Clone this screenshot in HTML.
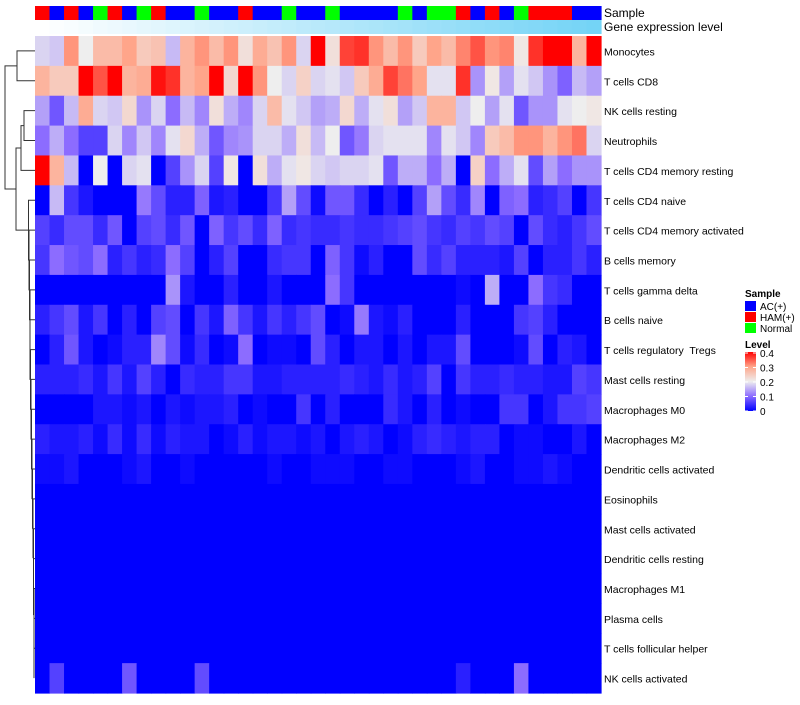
<!DOCTYPE html>
<html><head><meta charset="utf-8"><style>
body{margin:0;background:#fff;font-family:"Liberation Sans",sans-serif;}
svg text{font-family:"Liberation Sans",sans-serif;white-space:pre;}
</style></head><body>
<svg id="chart" width="800" height="700" xmlns="http://www.w3.org/2000/svg">
<g id="dendro" stroke="#333" stroke-width="1" fill="none"></g>
<g id="annot"></g>
<g id="cells"></g>
<g id="rowlabels"></g>
<text x="604" y="17" font-size="12">Sample</text>
<text x="604" y="31" font-size="12">Gene expression level</text>
<g>
<text x="745" y="297" font-size="10" font-weight="bold">Sample</text>
<rect x="745" y="301" width="11" height="10" fill="#0000ff"/>
<text x="760" y="310" font-size="10">AC(+)</text>
<rect x="745" y="312" width="11" height="10" fill="#ff0000"/>
<text x="760" y="321" font-size="10">HAM(+)</text>
<rect x="745" y="323" width="11" height="10" fill="#00ff00"/>
<text x="760" y="332" font-size="10">Normal</text>
</g>
<g>
<text x="745" y="348" font-size="10" font-weight="bold">Level</text>
<defs><linearGradient id="lg" x1="0" y1="1" x2="0" y2="0">
<stop offset="0" stop-color="#0000ff"/><stop offset="0.25" stop-color="#8c6cff"/><stop offset="0.5" stop-color="#eeeeee"/><stop offset="0.75" stop-color="#ffa58a"/><stop offset="1" stop-color="#ff0000"/></linearGradient></defs>
<rect x="745" y="352" width="11" height="59" fill="url(#lg)"/>
<g id="levticks"></g>
</g>
</svg>
<script>
const rowNames=["Monocytes","T cells CD8","NK cells resting","Neutrophils","T cells CD4 memory resting","T cells CD4 naive","T cells CD4 memory activated","B cells memory","T cells gamma delta","B cells naive","T cells regulatory  Tregs","Mast cells resting","Macrophages M0","Macrophages M2","Dendritic cells activated","Eosinophils","Mast cells activated","Dendritic cells resting","Macrophages M1","Plasma cells","T cells follicular helper","NK cells activated"];
const samples="RBRBGRBGRBBGBBRBBGBBGBBBBGBGGRBRBGRRRBB".split("");
const geneExpr=[0,0.02,0.04,0.06,0.08,0.1,0.12,0.14,0.16,0.18,0.2,0.22,0.24,0.26,0.28,0.3,0.32,0.34,0.36,0.38,0.4,0.42,0.44,0.46,0.48,0.5,0.52,0.54,0.56,0.58,0.6,0.62,0.64,0.66,0.68,0.7,0.72,0.74,0.76];
const r0=[18,17,31,20,27,27,30,25,26,16,28,31,27,31,22,29,26,31,18,40,22,36,37,31,27,31,25,30,27,32,35,31,32,21,37,40,40,28,40];
const r1=[28,25,25,40,35,40,28,29,39,37,28,30,40,23,40,31,20,18,24,18,19,17,25,29,36,33,30,19,19,37,13,21,14,19,17,13,9,16,14];
const r2=[14,8,16,29,18,17,23,13,18,10,16,12,22,15,12,18,27,19,17,14,15,23,15,19,22,14,17,28,28,17,20,14,19,8,13,13,19,20,21];
const r3=[10,15,10,6,6,18,12,17,12,19,23,15,8,12,13,18,18,15,22,16,20,8,11,18,19,19,19,12,19,17,12,25,27,31,31,28,31,33,18];
const r4=[40,28,16,0,20,0,18,19,0,6,13,18,6,21,0,22,15,19,21,18,17,18,18,19,8,15,15,10,15,0,24,10,15,19,7,14,10,13,13];
const r5=[0,16,5,2,0,0,0,11,7,3,3,9,2,3,0,0,5,14,7,1,8,8,4,0,3,0,6,14,7,4,12,0,9,10,3,4,6,0,5];
const r6=[6,4,7,7,4,8,0,6,7,4,8,0,9,5,7,4,9,4,5,4,4,5,4,4,5,6,7,5,4,6,5,7,6,0,7,4,3,5,7];
const r7=[5,10,8,7,10,3,5,3,4,10,6,0,3,6,0,0,4,5,5,0,9,5,1,3,0,0,7,4,6,3,3,3,2,6,0,3,3,5,3];
const r8=[0,0,0,0,0,0,0,0,0,13,2,0,0,3,0,0,2,0,0,0,10,5,0,0,0,0,0,0,0,1,0,15,0,0,10,5,4,0,0];
const r9=[3,5,7,2,5,0,3,0,6,7,0,5,2,9,5,2,5,3,5,7,0,1,11,2,1,3,0,0,0,3,0,0,0,5,6,3,0,0,0];
const r10=[0,3,8,2,0,1,3,3,12,7,1,4,0,1,10,0,1,1,0,7,3,0,2,2,0,2,0,2,2,7,0,0,0,1,7,0,3,2,0];
const r11=[3,3,3,4,2,5,2,6,3,0,4,3,3,5,5,2,2,3,3,3,3,4,3,2,4,2,3,6,0,5,3,3,4,3,3,2,2,6,5];
const r12=[0,0,0,0,2,2,1,2,0,2,1,2,2,3,0,1,0,0,5,0,3,0,0,0,4,2,0,3,0,1,0,0,5,5,0,2,5,5,6];
const r13=[3,2,2,3,1,4,1,4,1,3,2,2,0,1,3,1,2,2,1,2,0,2,3,2,0,1,3,4,3,2,3,3,0,1,1,0,0,2,0];
const r14=[1,1,2,0,0,0,1,2,0,0,1,0,0,0,0,0,1,0,0,1,1,1,0,0,1,1,0,0,0,1,2,0,0,1,1,2,1,0,0];
const r15=[0,0,0,0,0,0,0,0,0,0,0,0,0,0,0,0,0,0,0,0,0,0,0,0,0,0,0,0,0,0,0,0,0,0,0,0,0,0,0];
const r21=[0,6,0,0,0,0,8,0,0,0,0,7,0,0,0,0,0,0,0,0,0,0,0,0,0,0,0,0,0,3,0,0,0,10,0,0,0,0,0];
const levelTicks=["0","0.1","0.2","0.3","0.4"];
const values=[r0,r1,r2,r3,r4,r5,r6,r7,r8,r9,r10,r11,r12,r13,r14,r15,r15,r15,r15,r15,r15,r21];

const X0=35,X1=601,Y0=36,Y1=693;
const nC=samples.length,nR=rowNames.length;
const cw=(X1-X0)/nC,rh=(Y1-Y0)/nR;
const xs=i=>X0+i*cw, ys=j=>Y0+j*rh;
const NS="http://www.w3.org/2000/svg";
function mk(t,a,p){const e=document.createElementNS(NS,t);for(const k in a)e.setAttribute(k,a[k]);p.appendChild(e);return e;}
const stops=[[0,[0,0,255]],[0.1,[140,108,255]],[0.2,[238,238,238]],[0.3,[255,165,138]],[0.4,[255,0,0]]];
function col(v){v=Math.max(0,Math.min(0.4,v));for(let i=0;i<stops.length-1;i++){const[a,ca]=stops[i],[b,cb]=stops[i+1];if(v<=b){const t=(v-a)/(b-a);return"rgb("+ca.map((c,k)=>Math.round(c+(cb[k]-c)*t)).join(",")+")";}}return"red";}
const sCol={R:"#ff0000",B:"#0000ff",G:"#00ff00"};
const annot=document.getElementById("annot");
function lerpG(t){const a=[255,255,255],b=[72,198,243];return"rgb("+a.map((c,k)=>Math.round(c+(b[k]-c)*t)).join(",")+")";}
samples.forEach((s,i)=>{
 const r=mk("rect",{x:xs(i),y:6,width:cw+0.6,height:14,fill:sCol[s]},annot);
 
 
 const g=mk("rect",{x:xs(i),y:20,width:cw+0.6,height:14,fill:lerpG(geneExpr[i])},annot);
 
 
});
const cells=document.getElementById("cells");
values.forEach((row,j)=>row.forEach((v,i)=>{
 const r=mk("rect",{x:xs(i),y:ys(j),width:cw+0.6,height:rh+0.6,fill:col(v/100)},cells);
 
 
}));
const rl=document.getElementById("rowlabels");
rowNames.forEach((n,j)=>{
 const t=mk("text",{x:604,y:ys(j)+rh/2+4.5,"font-size":"10.5",fill:"#000"},rl);
 t.textContent=n;
 
 
});
const lt=document.getElementById("levticks");
levelTicks.forEach((t,k)=>{
 const y=411-k*(58/4);
 mk("line",{x1:745,x2:748,y1:y,y2:y,stroke:"#fff"},lt);mk("line",{x1:753,x2:756,y1:y,y2:y,stroke:"#fff"},lt);
 const e=mk("text",{x:760,y:y+4,"font-size":"10"},lt);e.textContent=t;
 
 
});
const d=document.getElementById("dendro");
const cy=j=>ys(j)+rh/2;
function br(x,ya,yb,xa,xb){mk("path",{d:`M${xa},${ya}H${x}V${yb}H${xb}`},d);}
let prevY=cy(21),prevX=34;
const chainX=[34,34,34,34,33.5,33.5,33,32.5,32,31.5,31,30.5,30,30,29.5,29,28.5];
for(let j=20;j>=5;j--){const x=chainX[20-j+1]||28;br(x,cy(j),prevY,35,prevX);prevY=(cy(j)+prevY)/2;prevX=x;}
const lowY=prevY,lowX=prevX;
br(24,cy(2),cy(3),35,35);
br(21,cy(4),(cy(2)+cy(3))/2,35,24);
const midA=(cy(4)+(cy(2)+cy(3))/2)/2;
br(16,midA,lowY,21,lowX);
const midB=(midA+lowY)/2;
br(17,cy(0),cy(1),35,35);
br(5,(cy(0)+cy(1))/2,midB,17,16);
</script>
</body></html>
